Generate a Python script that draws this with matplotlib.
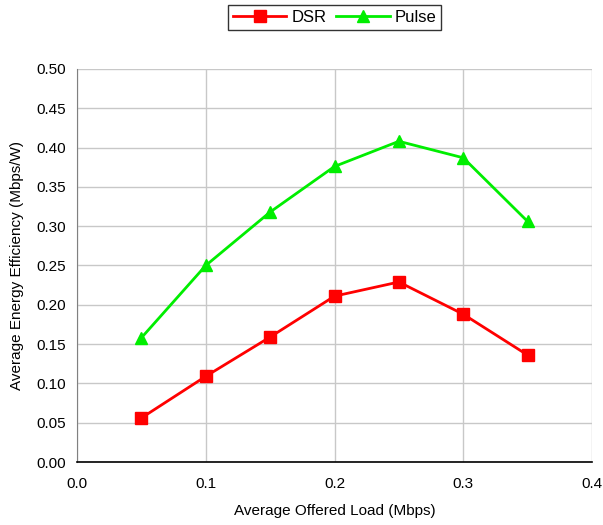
import matplotlib
matplotlib.use("Agg")
import matplotlib.pyplot as plt

plt.rcParams['font.family'] = ['Liberation Sans', 'DejaVu Sans']

# data
load = [0.05, 0.10, 0.15, 0.20, 0.25, 0.30, 0.35]
dsr = [0.056, 0.109, 0.159, 0.211, 0.229, 0.188, 0.136]
pulse = [0.158, 0.250, 0.318, 0.376, 0.408, 0.387, 0.306]

fig = plt.figure(figsize=(6.03, 5.25), dpi=100)
ax = fig.add_axes([0.1277, 0.12, 0.8541, 0.7486])

ax.plot(load, dsr, color='#ff0000', marker='s', markersize=9, linewidth=2, label='DSR')
ax.plot(load, pulse, color='#00ee00', marker='^', markersize=9, linewidth=2, label='Pulse')

ax.set_xlim(0, 0.4)
ax.set_ylim(0, 0.5)
ax.set_xticks([0.0, 0.1, 0.2, 0.3, 0.4])
ax.set_xticklabels(['0.0', '0.1', '0.2', '0.3', '0.4'])
ax.set_yticks([i * 0.05 for i in range(11)])
ax.set_yticklabels([f'{i * 0.05:.2f}' for i in range(11)])
ax.tick_params(labelsize=11, length=0)
ax.tick_params(axis='x', pad=11)
ax.tick_params(axis='y', pad=8)

ax.grid(True, color='#c8c8c8', linewidth=1)
ax.set_axisbelow(True)
for s in ['top', 'right']:
    ax.spines[s].set_visible(False)
ax.spines['left'].set_color('#808080')
ax.spines['bottom'].set_color('black')
ax.spines['bottom'].set_linewidth(1.2)

ax.set_xlabel('Average Offered Load (Mbps)', fontsize=11, labelpad=9)
ax.set_ylabel('Average Energy Efficiency (Mbps/W)', fontsize=11, labelpad=9)

leg = fig.legend(loc='center', bbox_to_anchor=(0.555, 0.967), ncol=2, fontsize=12,
                 frameon=True, fancybox=False, edgecolor='black', handlelength=3.2,
                 columnspacing=0.6, handletextpad=0.3, borderpad=0.3)
leg.get_frame().set_linewidth(1)

fig.savefig('out.png', dpi=100)
